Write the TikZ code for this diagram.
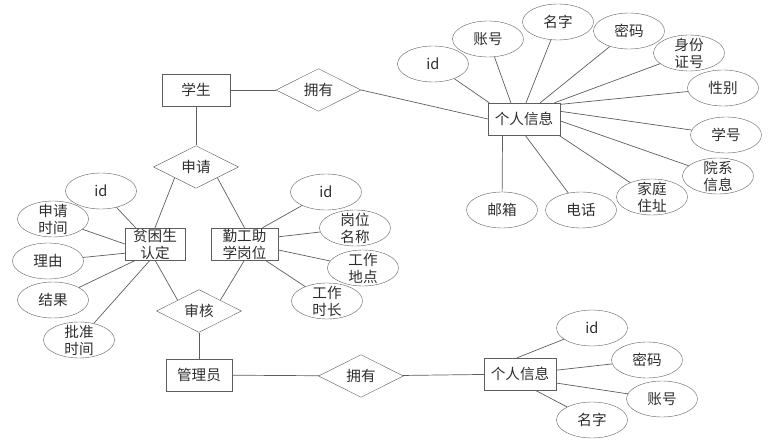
\documentclass[tikz,border=0pt]{standalone}
\usepackage{fontspec}
\setmainfont{Noto Sans CJK SC}
\usetikzlibrary{shapes.geometric}
\definecolor{linegray}{HTML}{5E5E5E}
\definecolor{textgray}{HTML}{2E2E2E}

\begin{document}
\begin{tikzpicture}[x=1pt,y=-1pt,
    every node/.append style={font=\fontsize{14.6}{17}\selectfont, text=textgray},
    entity/.style={draw=linegray, rectangle, inner sep=0pt, minimum height=32pt, align=center},
    relation/.style={draw=linegray, diamond, inner sep=0pt, minimum width=85pt, minimum height=42pt},
    attr/.style={draw=linegray, ellipse, inner sep=-5pt, minimum width=71pt, minimum height=36pt, align=center},
    link/.style={draw=linegray, line width=0.7pt}]
    \useasboundingbox (0,0) rectangle (784,443);

    % Entities
    \node[entity, minimum width=68pt] (stu) at (196,90) {学生};
    \node[entity, minimum width=72pt] (info1) at (524,119) {个人信息};
    \node[entity, minimum width=60pt] (pk) at (155,244) {贫困生\\认定};
    \node[entity, minimum width=67pt] (qg) at (244.5,244) {勤工助\\学岗位};
    \node[entity, minimum width=66pt] (admin) at (199,375) {管理员};
    \node[entity, minimum width=72pt] (info2) at (520,374) {个人信息};

    % Relations
    \node[relation] (own1) at (318.5,90) {拥有};
    \node[relation] (ask) at (196,167) {申请};
    \node[relation] (audit) at (199,311) {审核};
    \node[relation] (own2) at (361,376) {拥有};

    \draw[link] (stu) -- (own1);
    \draw[link] (own1.east) -- (info1.west);
    \draw[link] (stu) -- (ask);
    \draw[link] (ask.south west) -- (pk.north);
    \draw[link] (ask.south east) -- (qg.north);
    \draw[link] (pk.south) -- (audit.north west);
    \draw[link] (qg.south) -- (audit.north east);
    \draw[link] (audit) -- (admin);
    \draw[link] (admin) -- (own2);
    \draw[link] (own2) -- (info2);

    % Student info attributes
    \node[attr] (sid) at (433,64) {id};
    \node[attr] (sacc) at (488,39) {账号};
    \node[attr] (sname) at (558,22) {名字};
    \node[attr] (spwd) at (629,31) {密码};
    \node[attr] (scard) at (689,53) {身份\\证号};
    \node[attr] (ssex) at (723,88) {性别};
    \node[attr] (sno) at (726,135) {学号};
    \node[attr] (sdep) at (718,176) {院系\\信息};
    \node[attr] (saddr) at (652,197) {家庭\\住址};
    \node[attr] (stel) at (581,210) {电话};
    \node[attr] (smail) at (502,210) {邮箱};

    \draw[link] (sid) -- (info1.155);
    \draw[link] (sacc) -- (info1.129);
    \draw[link] (sname) -- (info1.83);
    \draw[link] (spwd) -- (info1.45);
    \draw[link] (scard) -- (info1.28);
    \draw[link] (ssex) -- (info1.22);
    \draw[link] (sno) -- (info1.12);
    \draw[link] (sdep) -- (info1.357);
    \draw[link] (saddr) -- (info1.335);
    \draw[link] (stel) -- (info1.274);
    \draw[link] (smail) -- (info1.217);

    % Poverty attributes
    \node[attr] (pid) at (101,191) {id};
    \node[attr] (ptime) at (53,219) {申请\\时间};
    \node[attr] (preason) at (48,261) {理由};
    \node[attr] (presult) at (53,300) {结果};
    \node[attr] (pok) at (79,340) {批准\\时间};

    \draw[link] (pid) -- (pk.140);
    \draw[link] (ptime) -- (pk.180);
    \draw[link] (preason) -- (pk.197);
    \draw[link] (presult) -- (pk.220);
    \draw[link] (pok) -- (pk.253);

    % Job attributes
    \node[attr] (jid) at (326,192) {id};
    \node[attr] (jname) at (355,228) {岗位\\名称};
    \node[attr] (jplace) at (363,268) {工作\\地点};
    \node[attr] (jhours) at (327,301) {工作\\时长};

    \draw[link] (jid) -- (qg.42);
    \draw[link] (jname) -- (qg.12);
    \draw[link] (jplace) -- (qg.350);
    \draw[link] (jhours) -- (qg.322);

    % Admin info attributes
    \node[attr] (aid) at (592,328) {id};
    \node[attr] (apwd) at (647,360) {密码};
    \node[attr] (aacc) at (662,399) {账号};
    \node[attr] (aname) at (592,420) {名字};

    \draw[link] (aid) -- (info2.100);
    \draw[link] (apwd) -- (info2.6);
    \draw[link] (aacc) -- (info2.346);
    \draw[link] (aname) -- (info2.313);
\end{tikzpicture}
\end{document}
